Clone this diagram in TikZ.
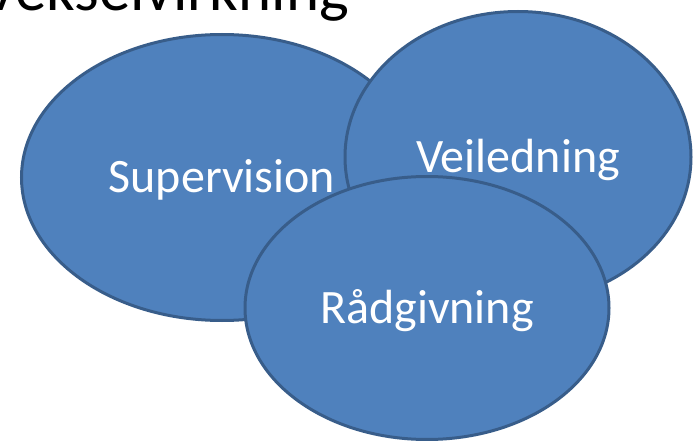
\documentclass[tikz,border=0pt]{standalone}
\usepackage{fontspec}
\setmainfont{Carlito}
\usetikzlibrary{shapes.geometric}
\definecolor{bubblefill}{HTML}{4F81BD}
\definecolor{bubbleline}{HTML}{385D8A}
\begin{document}
\begin{tikzpicture}[x=1pt,y=-1pt,
  bubble/.style={ellipse, draw=bubbleline, fill=bubblefill, line width=3pt,
    inner sep=0pt, text=white, font=\fontsize{48}{50}\selectfont,
    text height=31pt, text depth=0pt},
  titletext/.style={font=\fontsize{63}{66}\selectfont, text=black, inner sep=0pt}]
\useasboundingbox (0,0) rectangle (697,441);
\node[titletext, anchor=base east] (title) at (349,11) {Vekselvirkning};
\node[bubble, minimum width=401pt, minimum height=286pt] (sup) at (222,177.5) {Supervision};
\node[bubble, minimum width=346pt, minimum height=291pt] (vei) at (518,157) {Veiledning};
\node[bubble, minimum width=364pt, minimum height=263pt] (rad) at (427,308) {Rådgivning};
\end{tikzpicture}
\end{document}
